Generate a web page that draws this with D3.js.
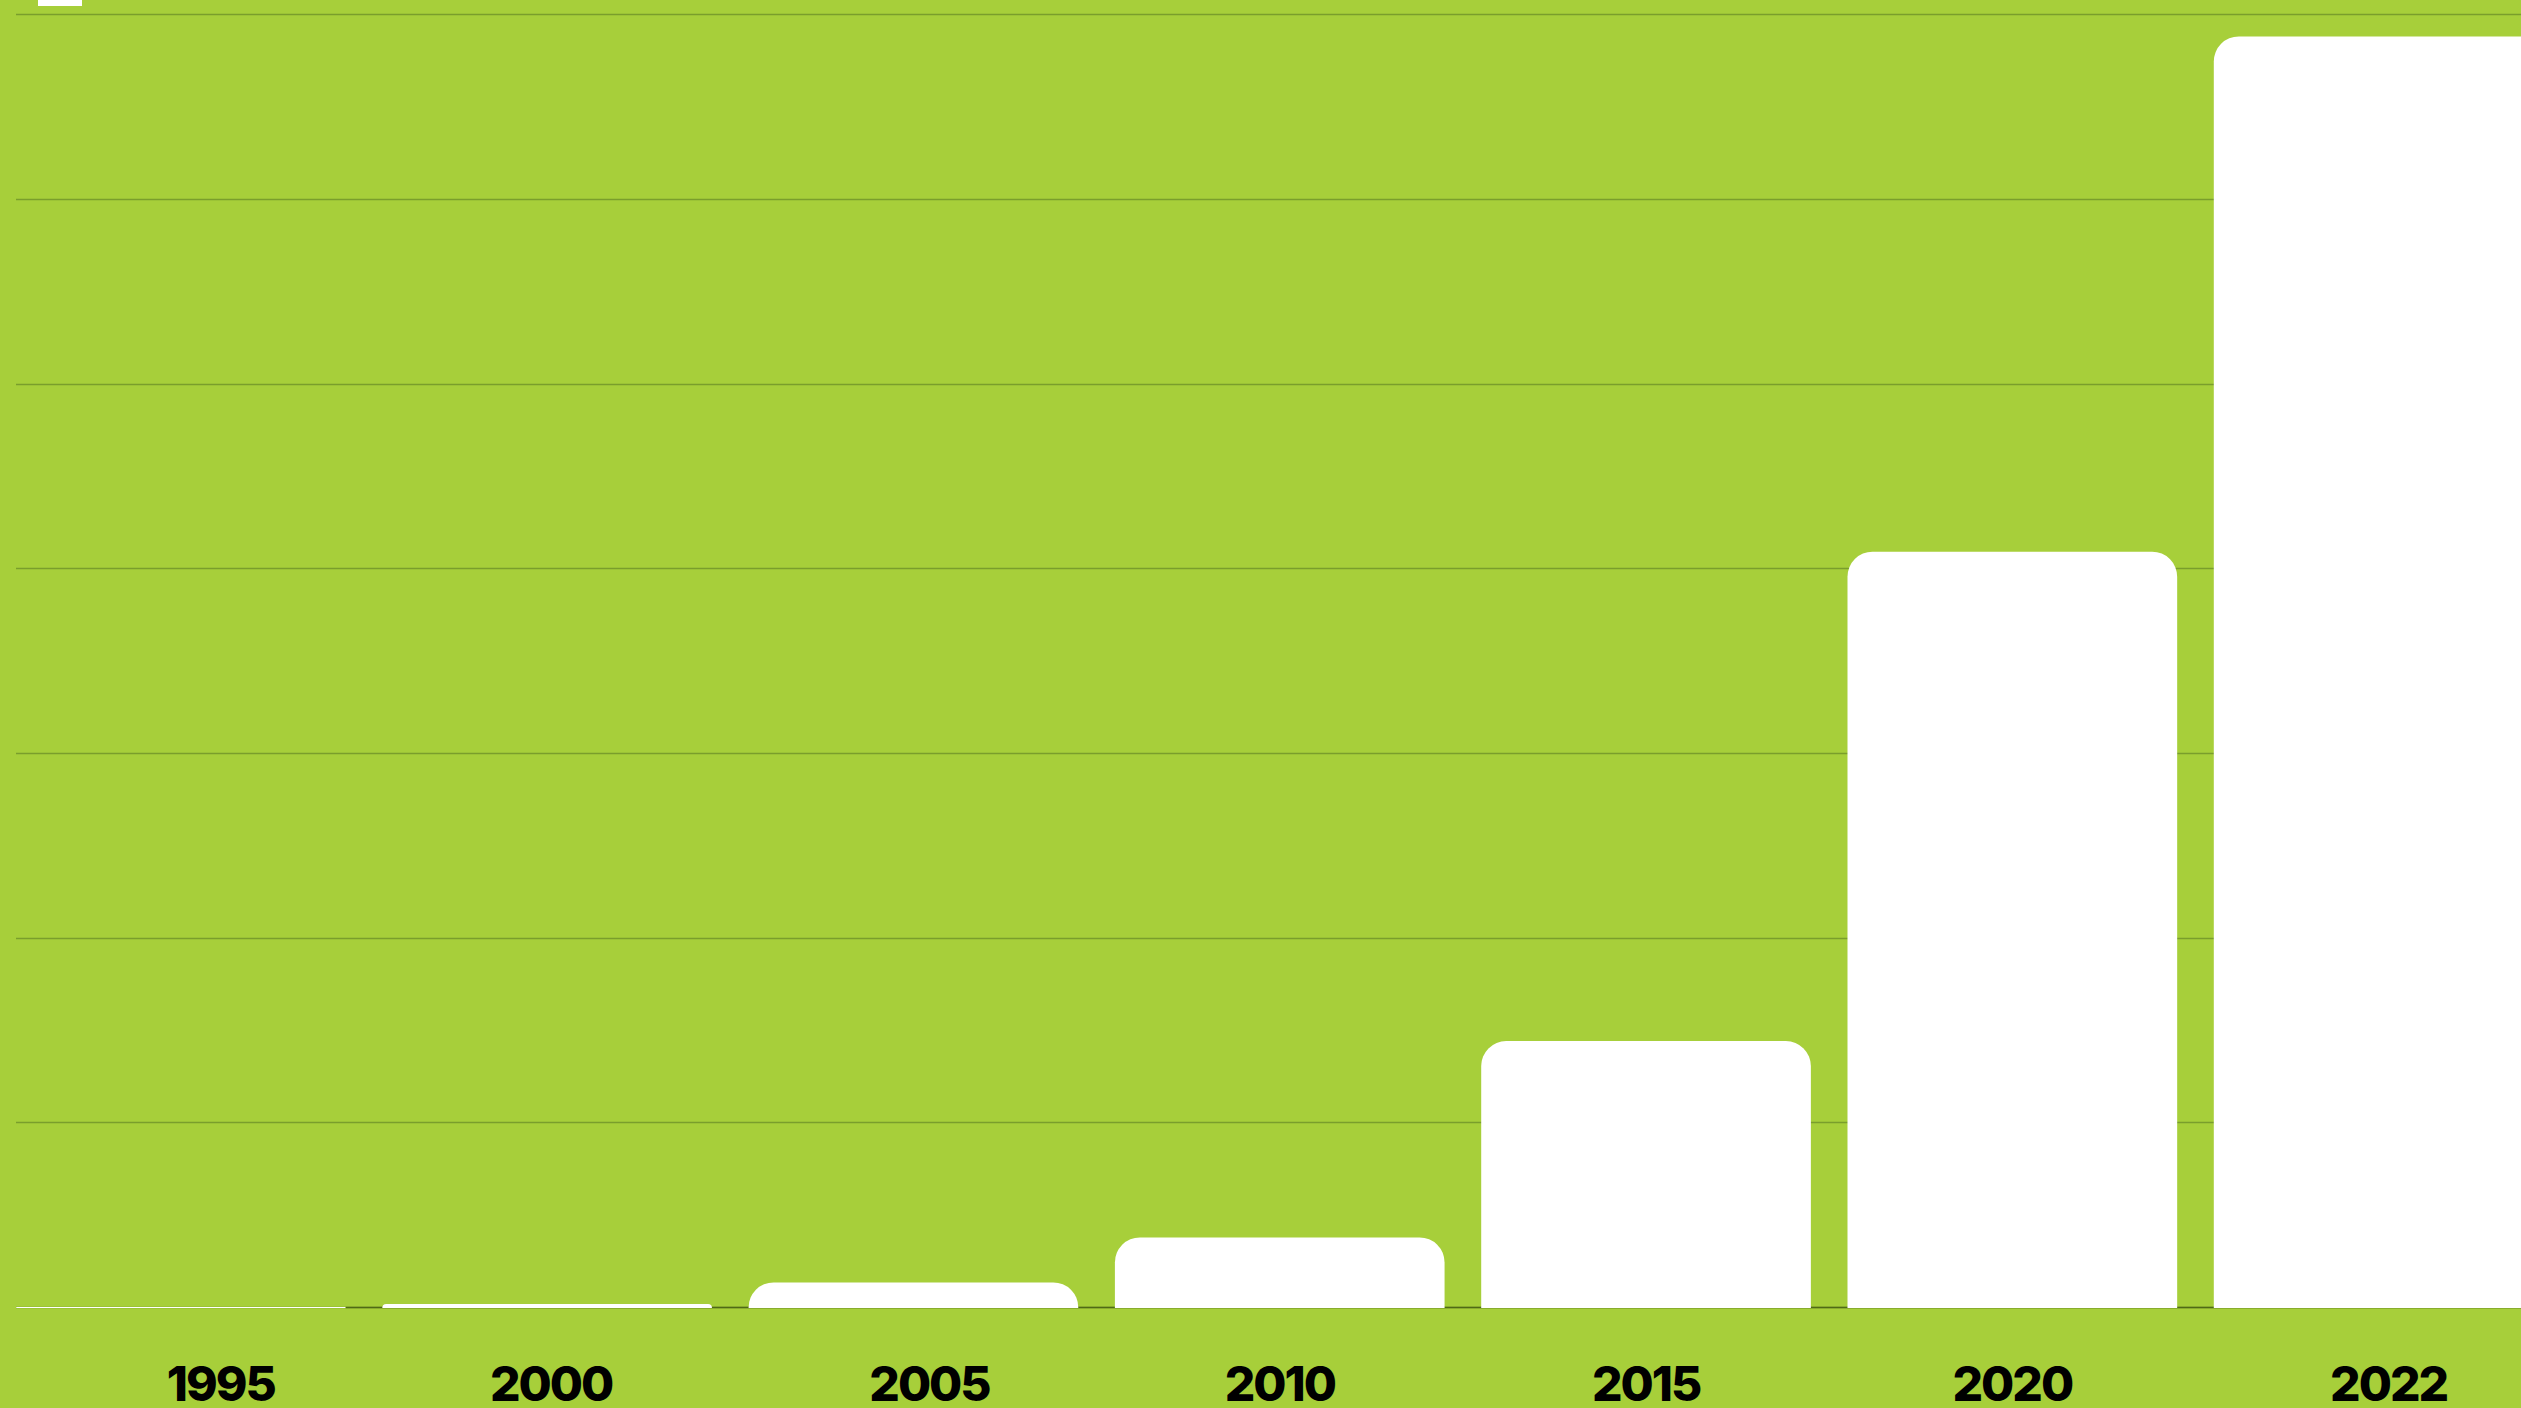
<!DOCTYPE html>
<html>
<head>
<meta charset="utf-8">
<script src="https://cdn.jsdelivr.net/npm/d3@7"></script>
<style>
  html, body { margin: 0; padding: 0; background: #a7cf3a; overflow: hidden; }
  svg { display: block; }
</style>
</head>
<body>
<div id="chart"></div>
<script>
// ---- data ----
const years = ["1995", "2000", "2005", "2010", "2015", "2020", "2022"];
const values = [0, 1.6, 13.3, 37.7, 144, 409, 688];
const gridTicks = [0, 100, 200, 300, 400, 500, 600, 700];

// ---- layout ----
const W = 2521, H = 1408;
const left = 16, baseY = 1307, topY = 14.3;
const step = 366.3;
const labelShift = {"1995": 40, "2005": 16, "2022": 10, "2000": 4};

const colors = {
  bg: "#a7cf3a",
  grid: "#7a9e2c",
  axis: "#4f6a16",
  bar: "#ffffff",
  text: "#000000"
};

const svg = d3.select("#chart").append("svg")
  .attr("width", W).attr("height", H);

svg.append("rect").attr("width", W).attr("height", H).attr("fill", colors.bg);

const x = d3.scaleBand()
  .domain(years)
  .range([left, left + step * 6.9])
  .paddingInner(0.1)
  .paddingOuter(0);

const y = d3.scaleLinear().domain([0, 700]).range([baseY, topY]);

// gridlines
svg.append("g").selectAll("line").data(gridTicks).join("line")
  .attr("x1", left).attr("x2", W)
  .attr("y1", d => Math.round(y(d)) + 0.5)
  .attr("y2", d => Math.round(y(d)) + 0.5)
  .attr("stroke", colors.grid).attr("stroke-width", 1.5);

// darker axis line (starts after first band)
svg.append("line")
  .attr("x1", x(years[0]) + x.bandwidth()).attr("x2", W)
  .attr("y1", Math.round(y(0)) + 0.5).attr("y2", Math.round(y(0)) + 0.5)
  .attr("stroke", colors.axis).attr("stroke-width", 1.5);

// legend swatch (cut off at top)
svg.append("rect").attr("x", 38).attr("y", -10).attr("width", 44).attr("height", 16).attr("fill", colors.bar);

// bars with rounded top corners
function barPathArc(x0, w, yTop, yBot, r) {
  const h = yBot - yTop;
  if (h <= 0) return "";
  r = Math.min(r, h, w / 2);
  return `M${x0},${yBot}V${yTop + r}A${r},${r} 0 0 1 ${x0 + r},${yTop}H${x0 + w - r}A${r},${r} 0 0 1 ${x0 + w},${yTop + r}V${yBot}Z`;
}

const data = years.map((yr, i) => ({ year: yr, value: values[i] }));

svg.append("g").selectAll("path").data(data).join("path")
  .attr("d", d => barPathArc(x(d.year), x.bandwidth(), y(d.value), y(0) + 1, 25))
  .attr("fill", colors.bar);

// labels
svg.append("g").selectAll("text").data(data).join("text")
  .attr("x", d => x(d.year) + x.bandwidth() / 2 + (labelShift[d.year] || 0))
  .attr("y", 1401)
  .attr("text-anchor", "middle")
  .attr("font-family", "Inter, 'Liberation Sans', sans-serif")
  .attr("font-weight", 800)
  .attr("font-size", 48)
  .attr("letter-spacing", -2)
  .attr("fill", colors.text)
  .text(d => d.year);
</script>
</body>
</html>
